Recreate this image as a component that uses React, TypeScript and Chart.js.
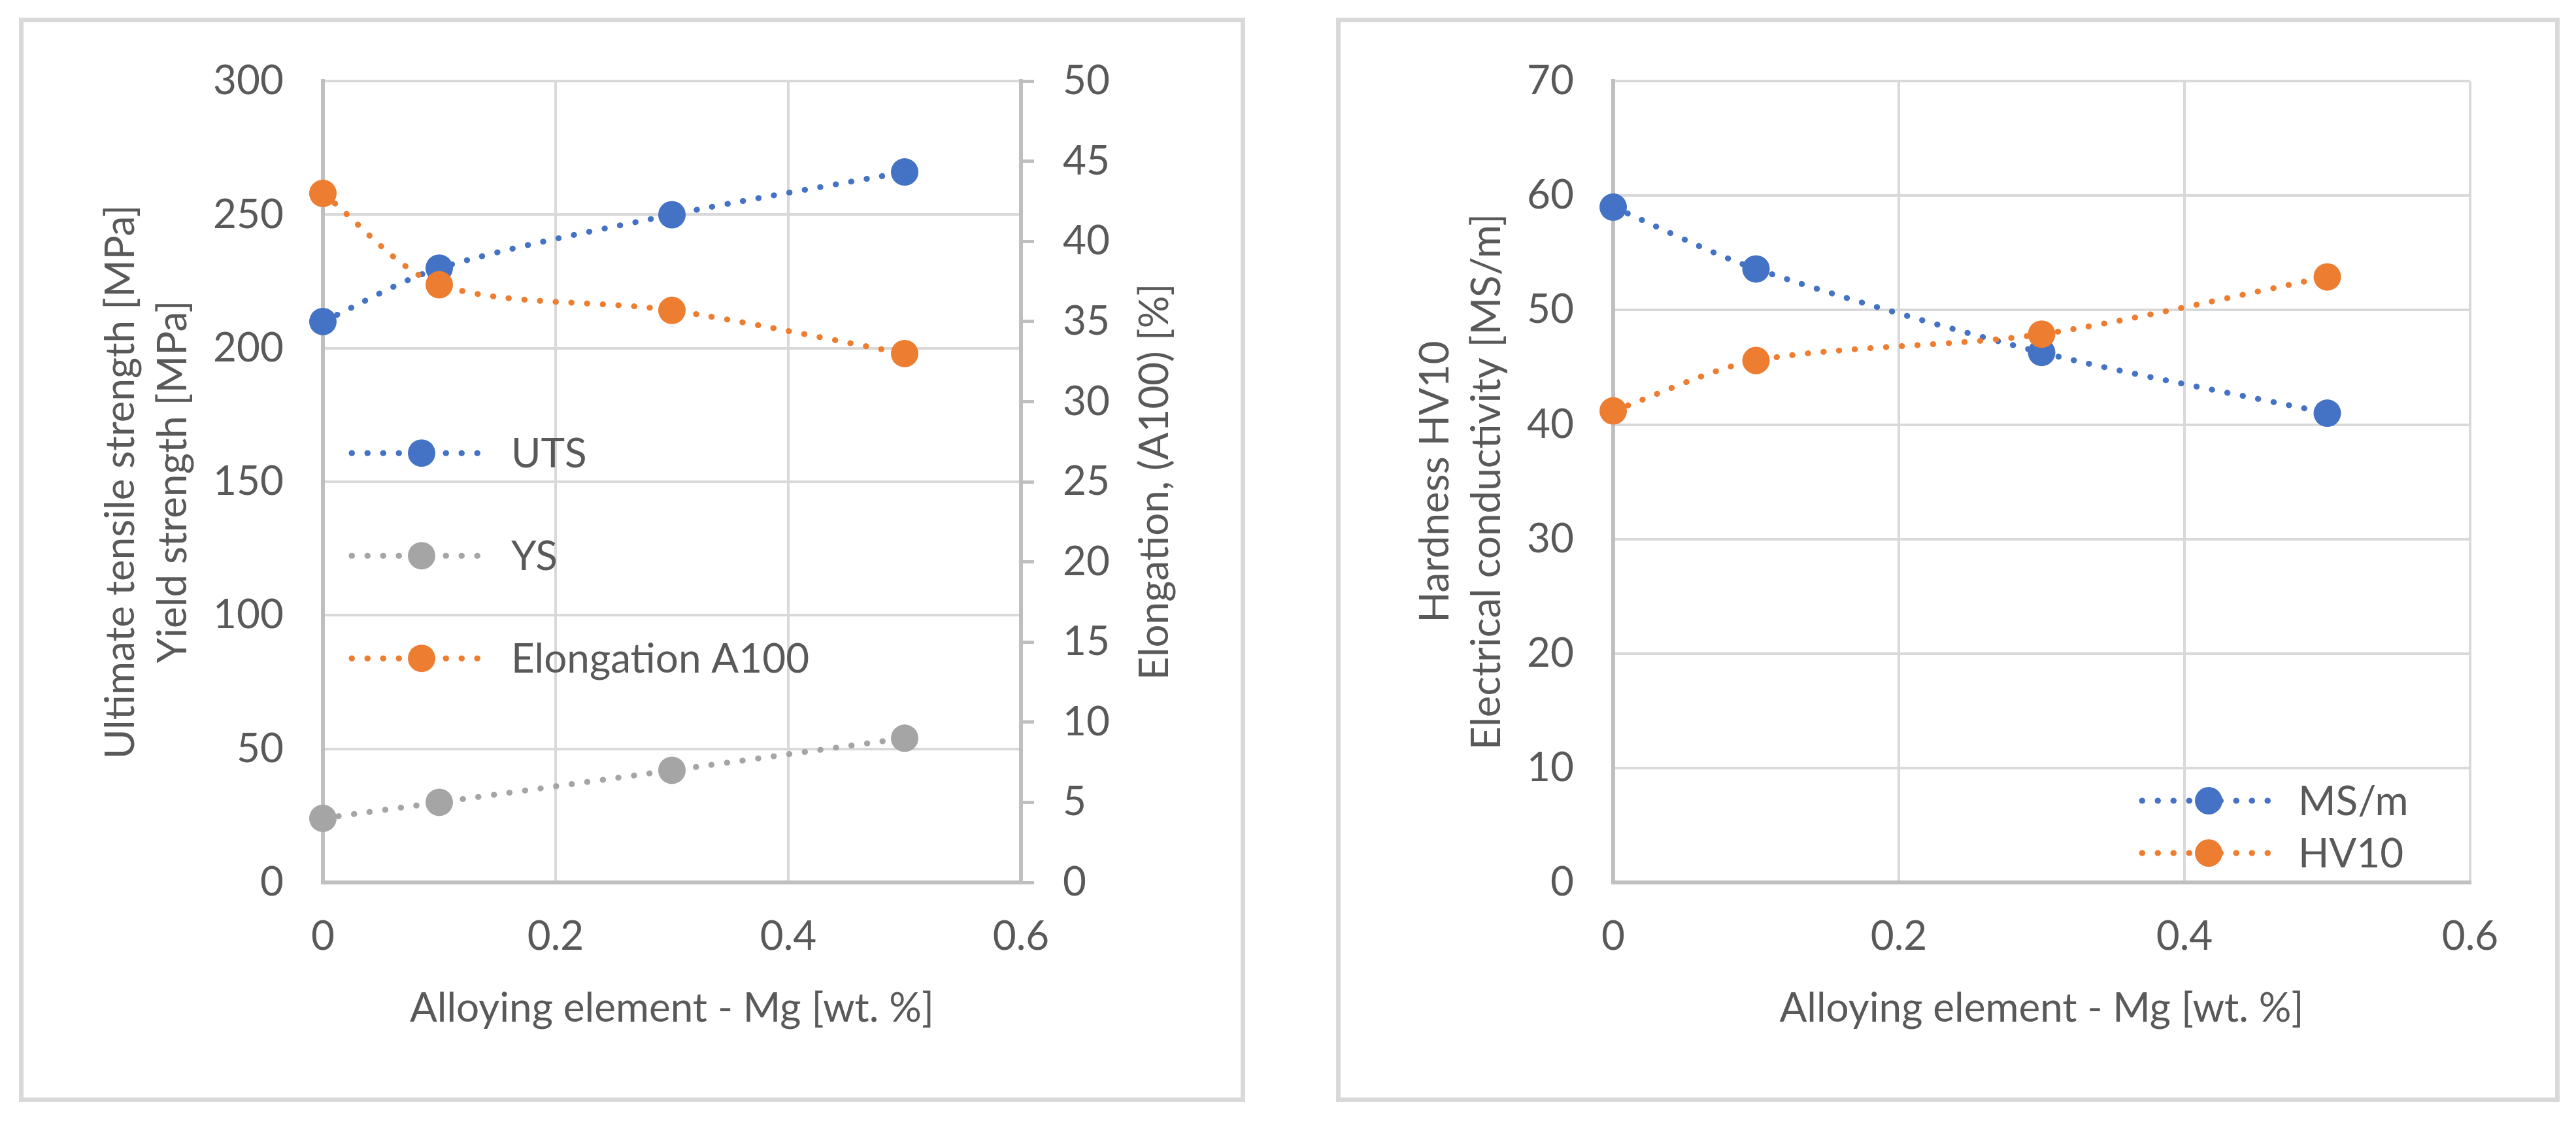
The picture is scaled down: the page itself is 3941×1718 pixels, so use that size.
import React, { useEffect, useRef } from 'react';
import { Chart, registerables } from 'chart.js';

Chart.register(...registerables);

// ---------- data ----------
const mgContent = [0, 0.1, 0.3, 0.5];
const utsValues = [210, 230, 250, 266];
const ysValues = [24, 30, 42, 54];
const elongationValues = [43, 37.3, 35.7, 33];
const conductivityValues = [59, 53.6, 46.3, 41];
const hardnessValues = [41.2, 45.6, 47.9, 52.9];

const leftSeriesLabels = ['UTS', 'YS', 'Elongation A100'];
const rightSeriesLabels = ['MS/m', 'HV10'];
const xAxisTitle = 'Alloying element - Mg [wt. %]';
const leftYTitle = ['Ultimate tensile strength [MPa]', 'Yield strength [MPa]'];
const leftY1Title = 'Elongation, (A100) [%]';
const rightYTitle = ['Hardness HV10', 'Electrical conductivity [MS/m]'];

// ---------- style ----------
const BLUE = '#4472C4';
const ORANGE = '#ED7D31';
const GRAY = '#A5A5A5';
const GRID = '#d9d9d9';
const AXIS = '#bfbfbf';
const TEXT = '#595959';
const FONT = 'Lato';
const FS = 62;

const LINE_W = 9;
const DASH = [0.5, 23.5];
const POINT_R = 21;

const insideLegend = {
  id: 'insideLegend',
  afterDatasetsDraw(chart: any, _args: any, opts: any) {
    const { ctx, chartArea } = chart;
    const x0 = opts.fromRight ? chartArea.right - opts.dx : chartArea.left + opts.dx;
    const y0 = opts.fromBottom ? chartArea.bottom - opts.dy : chartArea.top + opts.dy;
    opts.order.forEach((dsIndex: number, k: number) => {
      const ds = chart.data.datasets[dsIndex];
      const y = y0 + k * opts.rowGap;
      ctx.save();
      ctx.strokeStyle = ds.borderColor;
      ctx.lineWidth = LINE_W;
      ctx.lineCap = 'round';
      ctx.setLineDash(DASH);
      ctx.beginPath();
      ctx.moveTo(x0, y);
      ctx.lineTo(x0 + opts.sampleWidth, y);
      ctx.stroke();
      ctx.setLineDash([]);
      ctx.fillStyle = ds.borderColor;
      ctx.beginPath();
      ctx.arc(x0 + opts.markerAt, y, POINT_R, 0, Math.PI * 2);
      ctx.fill();
      ctx.fillStyle = TEXT;
      ctx.font = `${FS}px ${FONT}`;
      ctx.textAlign = 'left';
      ctx.textBaseline = 'middle';
      ctx.fillText(ds.label, x0 + opts.textAt, y + 2);
      ctx.restore();
    });
  },
};

const rightTitlePlugin = {
  id: 'rightTitle',
  afterDraw(chart: any, _args: any, opts: any) {
    if (!opts || !opts.text) return;
    const s = chart.scales.y1;
    const { ctx, chartArea } = chart;
    ctx.save();
    ctx.translate(s.right - opts.offset, (chartArea.top + chartArea.bottom) / 2);
    ctx.rotate(-Math.PI / 2);
    ctx.fillStyle = TEXT;
    ctx.font = `${FS}px ${FONT}`;
    ctx.textAlign = 'center';
    ctx.textBaseline = 'middle';
    ctx.fillText(opts.text, 0, 0);
    ctx.restore();
  },
};

function series(label: string, xs: number[], ys: number[], color: string, order: number, yAxisID = 'y') {
  return {
    label,
    data: xs.map((x, i) => ({ x, y: ys[i] })),
    borderColor: color,
    backgroundColor: color,
    borderWidth: LINE_W,
    borderDash: DASH,
    borderCapStyle: 'round',
    pointRadius: POINT_R,
    pointHoverRadius: POINT_R,
    pointBorderWidth: 0,
    pointBackgroundColor: color,
    tension: 0.3,
    clip: false,
    order,
    yAxisID,
  };
}

const font = { family: FONT, size: FS };

function xScale() {
  return {
    type: 'linear',
    min: 0,
    max: 0.6,
    ticks: {
      stepSize: 0.2,
      padding: 46,
      color: TEXT,
      font,
      callback: (v: any) => String(Math.round(Number(v) * 10) / 10),
    },
    grid: { color: GRID, lineWidth: 4, drawTicks: false },
    border: { display: true, color: AXIS, width: 6 },
    title: { display: true, text: xAxisTitle, color: TEXT, font, padding: { top: 0, bottom: 106 } },
    afterFit: (s: any) => {
      s.height = 336;
    },
  };
}

function leftConfig(): any {
  return {
    type: 'line',
    data: {
      datasets: [
        series(leftSeriesLabels[0], mgContent, utsValues, BLUE, 2),
        series(leftSeriesLabels[1], mgContent, ysValues, GRAY, 1),
        series(leftSeriesLabels[2], mgContent, elongationValues, ORANGE, 0, 'y1'),
      ],
    },
    options: {
      animation: false,
      responsive: false,
      devicePixelRatio: 1,
      layout: { padding: { top: 96, left: 0, right: 0, bottom: 0 } },
      plugins: {
        legend: { display: false },
        tooltip: { enabled: false },
        insideLegend: {
          order: [0, 1, 2],
          dx: 44,
          dy: 569,
          rowGap: 157,
          sampleWidth: 202,
          markerAt: 107,
          textAt: 244,
        },
        rightTitle: { text: leftY1Title, offset: 138 },
      },
      scales: {
        x: xScale(),
        y: {
          position: 'left',
          min: 0,
          max: 300,
          ticks: { stepSize: 50, padding: 60, color: TEXT, font },
          grid: { color: GRID, lineWidth: 4, drawTicks: false },
          border: { display: true, color: AXIS, width: 6 },
          title: {
            display: true,
            text: leftYTitle,
            color: TEXT,
            font: { family: FONT, size: FS, lineHeight: 80 / FS },
            padding: { top: 116, bottom: 0 },
          },
          afterFit: (s: any) => {
            s.width = 465;
          },
        },
        y1: {
          position: 'right',
          min: 0,
          max: 50,
          ticks: { stepSize: 5, padding: 44, color: TEXT, font },
          grid: { drawOnChartArea: false, drawTicks: true, tickLength: 20, tickColor: AXIS, color: AXIS, lineWidth: 5 },
          border: { display: true, color: AXIS, width: 6 },
          title: { display: false },
          afterFit: (s: any) => {
            s.width = 343;
          },
        },
      },
    },
    plugins: [insideLegend, rightTitlePlugin],
  };
}

function rightConfig(): any {
  return {
    type: 'line',
    data: {
      datasets: [
        series(rightSeriesLabels[0], mgContent, conductivityValues, BLUE, 1),
        series(rightSeriesLabels[1], mgContent, hardnessValues, ORANGE, 0),
      ],
    },
    options: {
      animation: false,
      responsive: false,
      devicePixelRatio: 1,
      layout: { padding: { top: 96, left: 0, right: 137, bottom: 0 } },
      plugins: {
        legend: { display: false },
        tooltip: { enabled: false },
        insideLegend: {
          order: [0, 1],
          fromRight: true,
          fromBottom: true,
          dx: 502,
          dy: 125,
          rowGap: 80,
          sampleWidth: 195,
          markerAt: 102,
          textAt: 239,
        },
      },
      scales: {
        x: xScale(),
        y: {
          position: 'left',
          min: 0,
          max: 70,
          ticks: { stepSize: 10, padding: 60, color: TEXT, font },
          grid: { color: GRID, lineWidth: 4, drawTicks: false },
          border: { display: true, color: AXIS, width: 6 },
          title: {
            display: true,
            text: rightYTitle,
            color: TEXT,
            font: { family: FONT, size: FS, lineHeight: 79 / FS },
            padding: { top: 112, bottom: 0 },
          },
          afterFit: (s: any) => {
            s.width = 424;
          },
        },
      },
    },
    plugins: [insideLegend],
  };
}

type PanelProps = { left: number; top: number; width: number; height: number; make: () => any };

function Panel({ left, top, width, height, make }: PanelProps) {
  const ref = useRef<HTMLCanvasElement | null>(null);
  useEffect(() => {
    if (!ref.current) return;
    const chart = new Chart(ref.current, make());
    return () => chart.destroy();
  }, []);
  return (
    <>
      <div
        style={{
          position: 'absolute',
          left,
          top,
          width,
          height,
          boxSizing: 'border-box',
          border: `7px solid ${GRID}`,
          background: '#fff',
        }}
      />
      <canvas
        ref={ref}
        width={width}
        height={height}
        style={{ position: 'absolute', left, top, width, height }}
      />
    </>
  );
}

export default function App() {
  useEffect(() => {
    Chart.defaults.font.family = FONT;
    Chart.defaults.color = TEXT;
  }, []);
  return (
    <div style={{ position: 'absolute', left: 0, top: 0, width: 3941, height: 1718, background: '#fff', overflow: 'hidden' }}>
      <Panel left={29} top={27} width={1876} height={1659} make={leftConfig} />
      <Panel left={2044} top={27} width={1872} height={1659} make={rightConfig} />
    </div>
  );
}
